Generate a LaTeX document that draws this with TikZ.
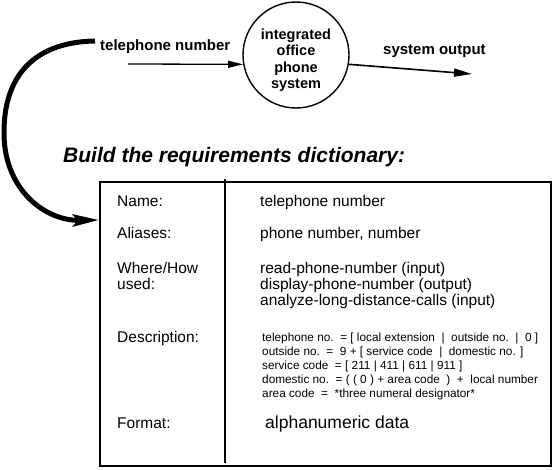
\documentclass[tikz,border=0pt]{standalone}
\usepackage{fontspec}
\setmainfont{Liberation Sans}
\usetikzlibrary{arrows.meta}

\begin{document}
\begin{tikzpicture}[x=1pt, y=-1pt,
	flow/.style={anchor=base west, inner sep=0pt, font=\bfseries\fontsize{15}{17}\selectfont},
	lbl/.style={anchor=base west, inner sep=0pt, font=\fontsize{15.5}{16}\selectfont},
	desc/.style={anchor=base west, inner sep=0pt, align=left, font=\fontsize{11.8}{13.9}\selectfont}]
	\useasboundingbox (0,0) rectangle (556,469);

	%% The process bubble and its two flows
	\node at (296,55) [draw, circle, line width=1.4pt, minimum size=106pt, inner sep=0pt] (sys) {};	% Called `sys'
	\node at (296,60) [align=center, inner sep=0pt, font=\bfseries\fontsize{14.5}{16.5}\selectfont] (systxt) {integrated\\office\\phone\\system};
	\node at (100,50) [flow] (tnlbl) {telephone number};
	\node at (383,54) [flow] (outlbl) {system output};
	\coordinate (tnin) at (128,64);
	\coordinate (sysout) at (472,74);
	\draw [line width=1.3pt, -{Triangle[length=15pt,width=7pt]}] (tnin) -- (sys.190);
	\draw [line width=1.6pt, -{Triangle[length=18pt,width=8pt]}] (sys.350) -- (sysout);

	%% Heading and the dictionary entry
	\node at (63,162) [anchor=base west, inner sep=0pt, font=\bfseries\itshape\fontsize{21}{24}\selectfont] (head) {Build the requirements dictionary:};
	\node at (325.5,324) [draw, line width=2pt, minimum width=451pt, minimum height=284pt] (dict) {};
	\draw [line width=2.5pt] (225,179) -- (225,463);	% column divider

	%% Multi-line nodes sit on the baseline of their last line
	\node at (117,206) [lbl] (name) {Name:};
	\node at (117,238) [lbl] (alias) {Aliases:};
	\node at (117,289) [lbl, align=left] (where) {Where/How\\used:};
	\node at (117,342) [lbl] (descr) {Description:};
	\node at (117,428) [lbl] (format) {Format:};

	\node at (260,206) [lbl] (nameval) {telephone number};
	\node at (260,238) [lbl] (aliasval) {phone number, number};
	\node at (260,305) [lbl, align=left] (whereval) {read-phone-number (input)\\display-phone-number (output)\\analyze-long-distance-calls (input)};
	\node at (262,397) [desc] (descrval) {telephone no.\ \ =\ [ local extension\ \ |\ \ outside no.\ \ |\ \ 0 ]\\outside no.\ \ =\ \ 9 + [ service code\ \ |\ \ domestic no. ]\\service code\ \ =\ [ 211 | 411 | 611 | 911 ]\\domestic no.\ \ = ( ( 0 ) + area code\ \ )\ \ +\ \ local number\\area code\ \ =\ \ *three numeral designator*};
	\node at (265,428) [anchor=base west, inner sep=0pt, font=\fontsize{17.5}{20}\selectfont] (formatval) {alphanumeric data};

	%% The flow name carried down into the dictionary
	\coordinate (tstart) at (95,41);
	\draw [line width=5pt, -{Stealth[length=26pt,width=12pt,inset=5pt]}] (tstart) .. controls (35,42) and (3,75) .. (4,135) .. controls (5,190) and (45,221) .. ([yshift=-39pt]dict.north west);
\end{tikzpicture}
\end{document}
